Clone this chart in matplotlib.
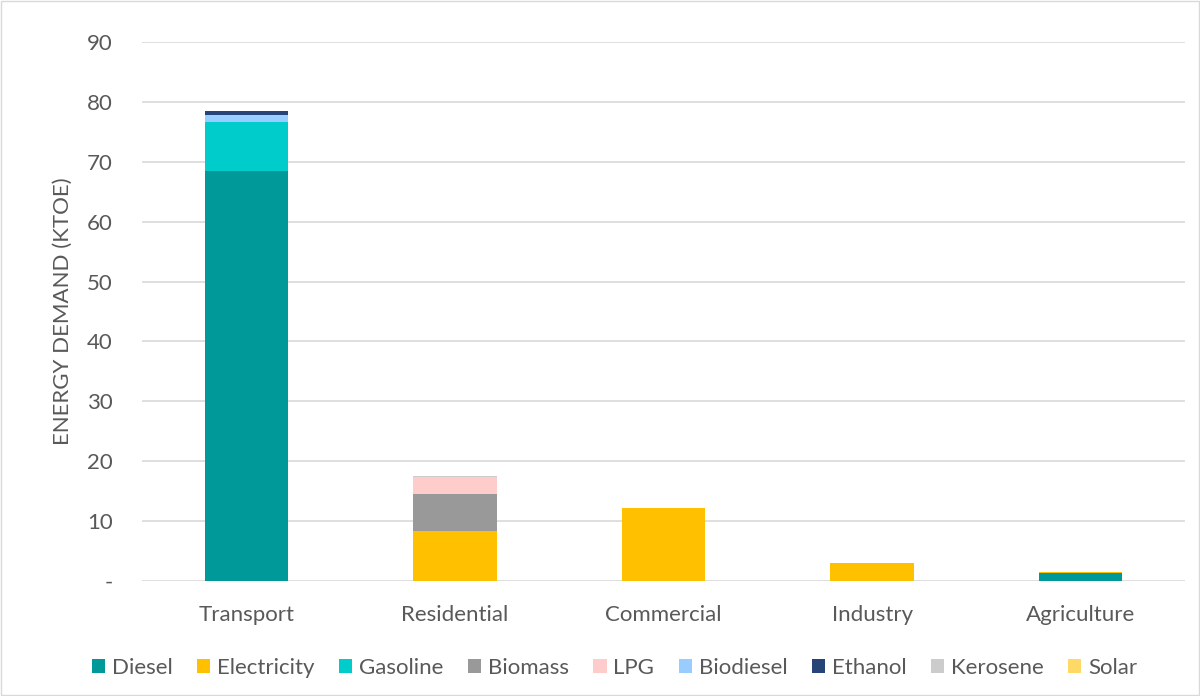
import numpy as np
import matplotlib.pyplot as plt

plt.rcParams['font.family'] = ['Lato', 'DejaVu Sans']

sectors = ['Transport', 'Residential', 'Commercial', 'Industry', 'Agriculture']
fuels = ['Diesel', 'Electricity', 'Gasoline', 'Biomass', 'LPG', 'Biodiesel', 'Ethanol', 'Kerosene', 'Solar']
colors = ['#009999', '#FFC000', '#00CCCC', '#999999', '#FFCCCC', '#99CCFF', '#264478', '#CCCCCC', '#FFD966']

diesel = [68.5, 0.0, 0.0, 0.0, 1.35]
electricity = [0.0, 8.35, 12.25, 3.0, 0.15]
gasoline = [8.1, 0.0, 0.0, 0.0, 0.0]
biomass = [0.0, 6.15, 0.0, 0.0, 0.0]
lpg = [0.0, 2.9, 0.0, 0.0, 0.0]
biodiesel = [1.2, 0.0, 0.0, 0.0, 0.0]
ethanol = [0.7, 0.0, 0.0, 0.0, 0.0]
kerosene = [0.0, 0.1, 0.0, 0.0, 0.0]
solar = [0.0, 0.0, 0.0, 0.0, 0.0]

series = [diesel, electricity, gasoline, biomass, lpg, biodiesel, ethanol, kerosene, solar]

fig = plt.figure(figsize=(12, 6.96), dpi=100)
ax = fig.add_axes([142/1200, 1 - 581/696, 1043/1200, 539/696])

x = np.arange(len(sectors))
bottom = np.zeros(len(sectors))
for name, vals, c in zip(fuels, series, colors):
    vals = np.array(vals)
    ax.bar(x, vals, 0.4, bottom=bottom, color=c, label=name, zorder=3)
    bottom += vals

ax.set_xlim(-0.5, 4.5)
ax.set_ylim(0, 90)
ax.set_yticks(np.arange(0, 91, 10))
ax.set_yticklabels(['-'] + [str(v) for v in range(10, 91, 10)])
ax.set_xticks(x)
ax.set_xticklabels(sectors)
ax.grid(axis='y', color='#D9D9D9', linewidth=1.2, zorder=0)
for s in ax.spines.values():
    s.set_visible(False)
ax.tick_params(length=0, labelsize=16, colors='#595959')
ax.tick_params(axis='x', pad=17)
ax.tick_params(axis='y', pad=21)
ax.set_ylabel('ENERGY DEMAND (KTOE)', fontsize=16, color='#595959', labelpad=10)

ax.legend(loc='upper center', bbox_to_anchor=(0.453, -0.105), ncol=9, frameon=False,
          fontsize=16, labelcolor='#595959', handlelength=0.6, handleheight=0.6,
          handletextpad=0.3, columnspacing=1.1)

fig.patches.append(plt.Rectangle((0.001, 0.001), 0.998, 0.998, transform=fig.transFigure,
                                 fill=False, edgecolor='#D9D9D9', linewidth=1))

fig.savefig('out.png')
